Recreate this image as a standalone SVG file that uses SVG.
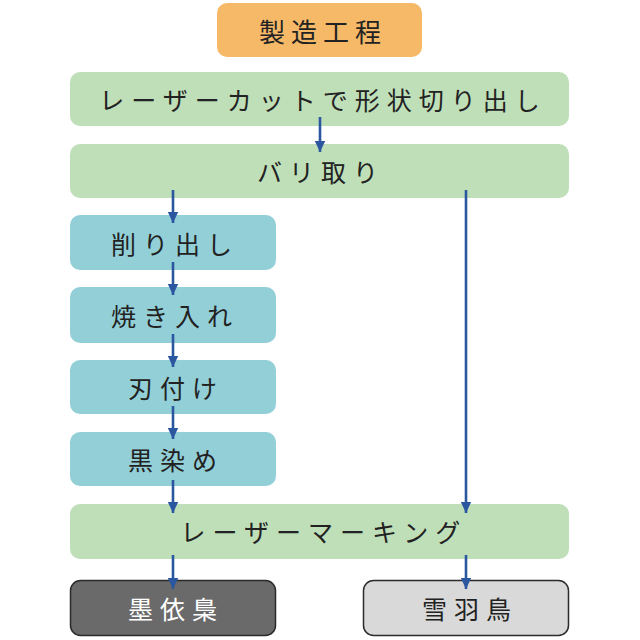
<svg xmlns="http://www.w3.org/2000/svg" width="640" height="640" viewBox="0 0 640 640">
<style>
.t{font-family:"Noto Sans CJK JP","Noto Sans",sans-serif;font-size:25px;letter-spacing:7px;fill:#222;text-anchor:middle;dominant-baseline:central}
.g{fill:#bfdfb8}
.c{fill:#93cfd7}
.a{stroke:#2b57a0;stroke-width:2.6;fill:none;marker-end:url(#ah)}
</style>
<defs>
<marker id="ah" markerUnits="userSpaceOnUse" markerWidth="14" markerHeight="14" viewBox="0 0 14 14" refX="12" refY="7" orient="auto">
<path d="M1,1.8 L12,7 L1,12.2 Z" fill="#2b57a0"/>
</marker>
</defs>
<rect width="640" height="640" fill="#fff"/>
<g id="title"><rect x="217" y="3" width="205" height="54" rx="10" fill="#f6b968"/><text class="t" x="323" y="30" style="font-size:26px;letter-spacing:6px">製造工程</text></g>
<g id="cut"><rect class="g" x="70" y="72" width="499" height="54" rx="10"/><text class="t" x="323" y="99">レーザーカットで形状切り出し</text></g>
<g id="bari"><rect class="g" x="70" y="144" width="499" height="54" rx="10"/><text class="t" x="321" y="171">バリ取り</text></g>
<g id="kezuri"><rect class="c" x="70" y="215" width="206" height="55" rx="10"/><text class="t" x="175" y="243">削り出し</text></g>
<g id="yaki"><rect class="c" x="70" y="287" width="206" height="56" rx="10"/><text class="t" x="175" y="315">焼き入れ</text></g>
<g id="hazuke"><rect class="c" x="70" y="360" width="206" height="54" rx="10"/><text class="t" x="176" y="387">刃付け</text></g>
<g id="kurozome"><rect class="c" x="70" y="432" width="206" height="54" rx="10"/><text class="t" x="176" y="459">黒染め</text></g>
<g id="marking"><rect class="g" x="70" y="504" width="499" height="55" rx="10"/><text class="t" x="324" y="531">レーザーマーキング</text></g>
<g id="sumi"><rect x="70.5" y="580.5" width="205" height="55" rx="10" fill="#6b6a6a" stroke="#2b2b2b" stroke-width="1.5"/><text class="t" x="176" y="608" style="fill:#fff">墨依梟</text></g>
<g id="yuki"><rect x="363.5" y="580.5" width="205" height="55" rx="10" fill="#d9d9d9" stroke="#2b2b2b" stroke-width="1.5"/><text class="t" x="470" y="608">雪羽鳥</text></g>
<g id="connectors">
<line class="a" x1="320" y1="117" x2="320" y2="152"/>
<line class="a" x1="173" y1="190" x2="173" y2="223"/>
<line class="a" x1="466" y1="190" x2="466" y2="513"/>
<line class="a" x1="173" y1="262" x2="173" y2="295"/>
<line class="a" x1="173" y1="334" x2="173" y2="367"/>
<line class="a" x1="173" y1="406" x2="173" y2="439"/>
<line class="a" x1="173" y1="480" x2="173" y2="513"/>
<line class="a" x1="173" y1="555" x2="173" y2="589"/>
<line class="a" x1="466" y1="555" x2="466" y2="589"/>
</g>
</svg>
